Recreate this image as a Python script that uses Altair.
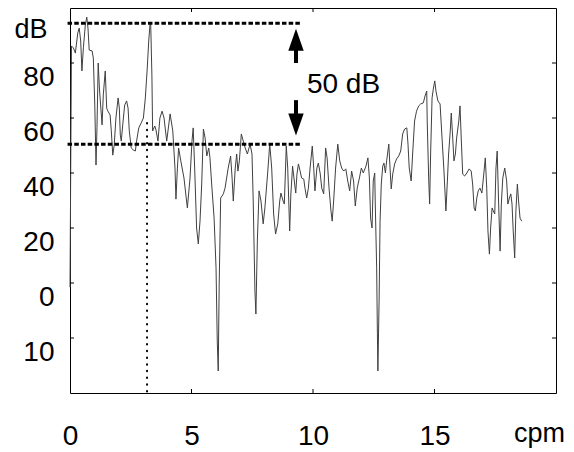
import altair as alt
import pandas as pd

# spectrum: frequency (cpm) and level (dB)
freq = [0.00, 0.06, 0.14, 0.22, 0.32, 0.38, 0.44, 0.49, 0.55, 0.63, 0.69, 0.74, 0.79, 0.91, 0.96,
        1.02, 1.07, 1.11, 1.16, 1.21, 1.26, 1.32, 1.37, 1.45, 1.51, 1.56, 1.65, 1.70, 1.76, 1.82,
        1.89, 1.98, 2.03, 2.07, 2.11, 2.17, 2.25, 2.33, 2.39, 2.44, 2.52, 2.60, 2.69, 2.74, 2.83,
        2.93, 3.02, 3.10, 3.18, 3.24, 3.29, 3.32, 3.37, 3.40, 3.49, 3.54, 3.62, 3.70, 3.79, 3.87,
        3.98, 4.12, 4.23, 4.32, 4.36, 4.42, 4.47, 4.56, 4.69, 4.83, 4.94, 5.02, 5.07, 5.13, 5.21,
        5.28, 5.35, 5.42, 5.49, 5.56, 5.63, 5.71, 5.76, 5.83, 5.93, 6.01, 6.06, 6.10, 6.14, 6.20,
        6.31, 6.38, 6.51, 6.61, 6.67, 6.72, 6.80, 6.86, 6.91, 6.97, 7.05, 7.13, 7.21, 7.30, 7.41,
        7.49, 7.54, 7.61, 7.65, 7.71, 7.78, 7.86, 7.95, 8.02, 8.14, 8.22, 8.30, 8.38, 8.46, 8.55,
        8.63, 8.68, 8.77, 8.82, 8.90, 8.96, 9.04, 9.09, 9.16, 9.23, 9.29, 9.34, 9.40, 9.47, 9.53,
        9.62, 9.67, 9.74, 9.81, 9.88, 9.97, 10.03, 10.08, 10.16, 10.22, 10.30, 10.36, 10.44, 10.52,
        10.58, 10.66, 10.74, 10.79, 10.85, 10.93, 11.02, 11.10, 11.18, 11.26, 11.35, 11.43, 11.51,
        11.59, 11.67, 11.74, 11.82, 11.91, 11.99, 12.07, 12.18, 12.26, 12.32, 12.37, 12.43, 12.48,
        12.54, 12.56, 12.62, 12.65, 12.67, 12.72, 12.76, 12.81, 12.87, 12.92, 12.98, 13.03, 13.12,
        13.17, 13.22, 13.28, 13.36, 13.44, 13.53, 13.61, 13.69, 13.77, 13.86, 13.91, 13.96, 14.04,
        14.10, 14.18, 14.26, 14.35, 14.43, 14.54, 14.61, 14.68, 14.70, 14.76, 14.80, 14.84, 14.90,
        14.95, 15.01, 15.06, 15.14, 15.23, 15.31, 15.39, 15.47, 15.53, 15.58, 15.64, 15.69, 15.75,
        15.80, 15.86, 15.91, 16.00, 16.05, 16.10, 16.16, 16.24, 16.33, 16.43, 16.51, 16.57, 16.63,
        16.68, 16.74, 16.80, 16.87, 16.95, 17.04, 17.09, 17.15, 17.20, 17.26, 17.31, 17.37, 17.42,
        17.48, 17.53, 17.58, 17.64, 17.70, 17.75, 17.81, 17.89, 17.97, 18.02, 18.08, 18.14, 18.19,
        18.24, 18.30, 18.35, 18.41, 18.46, 18.52, 18.59]
level = [-1.5, 86.2, 85.5, 83.6, 90.9, 92.7, 88.0, 77.1, 85.5, 93.8, 96.7, 92.7, 84.7, 84.4, 81.8,
         64.7, 42.9, 56.4, 80.0, 70.9, 64.7, 57.5, 68.4, 77.1, 63.6, 62.5, 61.1, 55.3, 46.5, 50.2,
         60.0, 67.3, 63.6, 53.8, 51.6, 57.5, 64.7, 66.2, 63.6, 55.3, 49.1, 48.4, 48.0, 51.6, 56.4,
         58.2, 60.0, 67.3, 78.2, 88.0, 93.8, 94.5, 75.6, 55.3, 57.1, 55.6, 51.6, 60.0, 62.5, 60.0,
         51.6, 61.5, 55.3, 41.8, 30.5, 41.8, 49.1, 44.4, 38.2, 27.3, 38.2, 51.6, 56.4, 41.8, 20.0,
         14.2, 22.5, 36.0, 56.0, 52.7, 46.2, 49.1, 45.5, 36.0, 23.6, 5.5, -21.1, -32.0, -0.4, 30.9,
         32.4, 34.5, 41.8, 46.2, 38.2, 29.8, 41.8, 46.9, 40.7, 44.4, 54.2, 51.6, 49.1, 46.9, 50.5,
         46.9, 29.8, -2.9, -11.3, 15.3, 33.5, 29.8, 21.5, 27.3, 40.7, 50.5, 41.8, 25.1, 17.8, 21.5,
         29.8, 32.7, 29.8, 28.7, 49.8, 41.8, 18.9, 32.4, 42.5, 37.1, 32.7, 39.6, 43.3, 40.7, 38.2,
         37.8, 34.5, 30.9, 34.5, 41.8, 49.8, 41.8, 33.5, 41.8, 43.6, 39.6, 34.5, 32.4, 49.1,
         45.5, 34.5, 26.2, 22.5, 29.8, 41.8, 50.5, 44.4, 41.8, 40.7, 41.5, 37.1, 33.5,
         40.7, 37.1, 28.0, 34.5, 38.2, 41.8, 40.0, 42.5, 45.5, 38.2, 23.6, 20.0, 37.1,
         40.0, 29.8, 5.5, -18.5, -32.0, -6.5, 22.5, 36.0, 42.5, 43.6, 40.0, 44.4, 50.5,
         41.8, 34.2, 39.6, 43.3, 45.1, 46.2, 48.0, 54.2, 56.0, 56.4, 50.5, 41.8, 37.1,
         46.9, 58.9, 62.5, 64.4, 65.1, 65.5, 68.0, 69.8, 58.9, 38.2, 28.7, 46.9, 67.3,
         70.5, 73.5, 69.8, 66.2, 65.1, 52.7, 40.7, 26.2, 37.1, 46.9, 54.2, 61.8, 52.7,
         44.4, 46.9, 52.7, 58.9, 64.4, 52.7, 39.6, 38.9, 40.0, 41.5, 40.7, 36.0, 27.3,
         26.2, 30.9, 33.5, 34.5, 32.7, 40.7, 45.5, 34.5, 18.9, 10.5, 20.0, 27.3, 26.2,
         25.1, 41.8, 48.0, 28.7, 11.6, 28.7, 38.2, 41.8, 37.1, 28.7, 30.9, 32.4, 28.7,
         18.9, 9.1, 26.2, 36.0, 29.8, 23.6, 22.5]

x_label_values = [0, 5, 10, 15]
x_tick_values = [5, 10, 15]
y_tick_values = [-20, 0, 20, 40, 60, 80]

upper_db = 94.5
lower_db = 50.5
ref_start = -0.1
ref_end = 9.47
vert_x = 3.17
vert_top = 58.2
arrow_x = 9.3
annot_text = "50 dB"
annot_x = 9.75
annot_y = 69.1

FONT = "Liberation Sans"
W, H = 486, 385

xs = alt.Scale(domain=[0, 20], nice=False, zero=False)
ys = alt.Scale(domain=[-40, 100], nice=False, zero=False)

df = pd.DataFrame({"f": freq, "db": level})

x_axis = alt.Axis(values=x_label_values, ticks=False, tickSize=0, domain=False, grid=False,
                  labelPadding=29, labelBaseline="top", labelFlush=False, labelOverlap=False,
                  title="cpm", titleX=469, titleY=48, titleBaseline="alphabetic",
                  titleAlign="center")
y_axis = alt.Axis(values=y_tick_values, ticks=False, tickSize=0, domain=False, grid=False,
                  labelPadding=16, labelBaseline="top", labelOffset=0, labelFlush=False,
                  labelOverlap=False,
                  labelExpr="datum.value == -20 ? '10' : datum.label",
                  title="dB", titleAngle=0, titleAlign="right", titleBaseline="top",
                  titleX=-23, titleY=8)

line = alt.Chart(df).mark_line(color="#404040", strokeWidth=1).encode(
    x=alt.X("f:Q", scale=xs, axis=x_axis),
    y=alt.Y("db:Q", scale=ys, axis=y_axis),
)

ytk = pd.DataFrame({"v": y_tick_values})
xtk = pd.DataFrame({"v": x_tick_values})
tick_left = alt.Chart(ytk).mark_rule(color="black", strokeWidth=1).encode(
    y=alt.Y("v:Q", scale=ys), x=alt.value(0), x2=alt.value(4))
tick_right = alt.Chart(ytk).mark_rule(color="black", strokeWidth=1).encode(
    y=alt.Y("v:Q", scale=ys), x=alt.value(W - 4), x2=alt.value(W))
tick_bottom = alt.Chart(xtk).mark_rule(color="black", strokeWidth=1).encode(
    x=alt.X("v:Q", scale=xs), y=alt.value(H - 4), y2=alt.value(H))
tick_top = alt.Chart(xtk).mark_rule(color="black", strokeWidth=1).encode(
    x=alt.X("v:Q", scale=xs), y=alt.value(0), y2=alt.value(4))

hdf = pd.DataFrame({"x": [ref_start, ref_start], "x2": [ref_end, ref_end], "y": [upper_db, lower_db]})
hlines = alt.Chart(hdf).mark_rule(color="black", strokeWidth=3, strokeDash=[4.5, 2.2]).encode(
    x=alt.X("x:Q", scale=xs), x2="x2:Q", y=alt.Y("y:Q", scale=ys))

vdf = pd.DataFrame({"x": [vert_x], "y": [vert_top], "y2": [-40]})
vline = alt.Chart(vdf).mark_rule(color="black", strokeWidth=2, strokeDash=[0.5, 6.2],
                                 strokeCap="round").encode(
    x=alt.X("x:Q", scale=xs), y=alt.Y("y:Q", scale=ys), y2="y2:Q")

sdf = pd.DataFrame({"x": [arrow_x, arrow_x], "y": [86.9, 66.5], "y2": [80.0, 61.1]})
shafts = alt.Chart(sdf).mark_rule(color="black", strokeWidth=4).encode(
    x=alt.X("x:Q", scale=xs), y=alt.Y("y:Q", scale=ys), y2="y2:Q")

up_head = alt.Chart(pd.DataFrame({"x": [arrow_x], "y": [88.5]})).mark_point(
    shape="M-0.7,1L0,-1L0.7,1Z", filled=True, size=484, color="black", opacity=1).encode(
    x=alt.X("x:Q", scale=xs), y=alt.Y("y:Q", scale=ys))
down_head = alt.Chart(pd.DataFrame({"x": [arrow_x], "y": [57.6]})).mark_point(
    shape="M-0.7,-1L0,1L0.7,-1Z", filled=True, size=484, color="black", opacity=1).encode(
    x=alt.X("x:Q", scale=xs), y=alt.Y("y:Q", scale=ys))

annot = alt.Chart(pd.DataFrame({"x": [annot_x], "y": [annot_y], "t": [annot_text]})).mark_text(
    align="left", baseline="alphabetic", fontSize=28, font=FONT, color="black").encode(
    x=alt.X("x:Q", scale=xs), y=alt.Y("y:Q", scale=ys), text="t:N")

chart = alt.layer(line, tick_left, tick_right, tick_bottom, tick_top, hlines, vline,
                  shafts, up_head, down_head, annot).properties(
    width=W, height=H,
    autosize=alt.AutoSizeParams(type="none"),
    padding={"left": 62, "top": 0, "right": 10, "bottom": 56},
    background="white",
).configure_view(stroke="black", strokeWidth=1).configure_axis(
    labelFontSize=28, labelFont=FONT, labelColor="black", labelFontWeight="normal",
    titleFontSize=27, titleFont=FONT, titleColor="black", titleFontWeight="normal",
)

chart.save("out.html", embed_options={"renderer": "svg", "actions": False})
